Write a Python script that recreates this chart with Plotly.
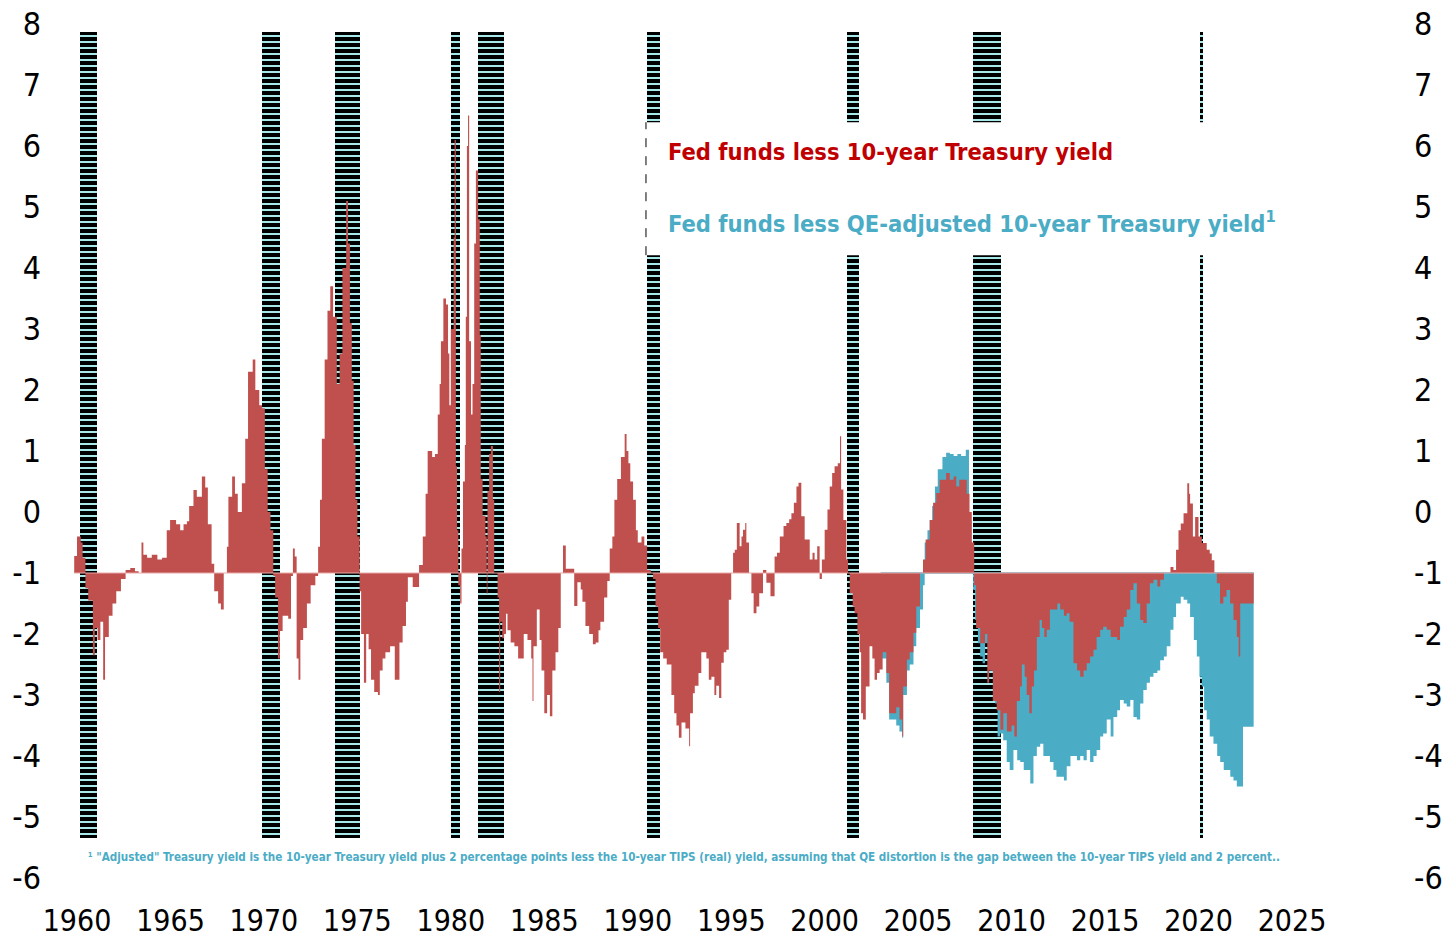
import plotly.graph_objects as go

# ---------------- data ----------------
# Fed funds less 10-year Treasury yield (step breakpoints: start of period, value)
red_x = [1959.85, 1960.0, 1960.2, 1960.3, 1960.45, 1960.6, 1960.85, 1960.95, 1961.1, 1961.25, 1961.4, 1961.5,
         1961.7, 1961.9, 1962.1, 1962.35, 1962.6, 1962.85, 1963.1, 1963.3, 1963.45, 1963.55, 1963.75, 1964.0,
         1964.3, 1964.55, 1964.8, 1964.98, 1965.3, 1965.52, 1965.7, 1965.88, 1966.0, 1966.23, 1966.41, 1966.68,
         1966.86, 1967.0, 1967.2, 1967.34, 1967.55, 1967.7, 1967.85, 1968.02, 1968.1, 1968.3, 1968.45, 1968.6,
         1968.82, 1969.0, 1969.15, 1969.4, 1969.54, 1969.75, 1969.9, 1970.05, 1970.2, 1970.35, 1970.5, 1970.6,
         1970.75, 1970.85, 1971.0, 1971.3, 1971.45, 1971.55, 1971.65, 1971.75, 1971.85, 1971.95, 1972.1, 1972.3,
         1972.5, 1972.75, 1972.9, 1973.0, 1973.1, 1973.25, 1973.4, 1973.55, 1973.7, 1973.9, 1974.05, 1974.2,
         1974.4, 1974.5, 1974.6, 1974.7, 1974.8, 1974.9, 1975.0, 1975.12, 1975.2, 1975.35, 1975.47, 1975.6,
         1975.73, 1975.9, 1976.1, 1976.2, 1976.35, 1976.5, 1976.75, 1977.0, 1977.25, 1977.42, 1977.6, 1977.7,
         1977.96, 1978.3, 1978.5, 1978.65, 1978.76, 1979.0, 1979.15, 1979.3, 1979.4, 1979.47, 1979.6, 1979.74,
         1979.85, 1979.92, 1980.0, 1980.15, 1980.2, 1980.27, 1980.33, 1980.4, 1980.5, 1980.57, 1980.65, 1980.75,
         1980.8, 1980.86, 1980.92, 1980.98, 1981.08, 1981.16, 1981.25, 1981.34, 1981.46, 1981.55, 1981.6, 1981.7,
         1981.85, 1981.92, 1981.96, 1982.05, 1982.14, 1982.25, 1982.32, 1982.5, 1982.58, 1982.64, 1982.75, 1982.85,
         1982.95, 1983.03, 1983.2, 1983.4, 1983.6, 1983.75, 1983.9, 1984.1, 1984.3, 1984.37, 1984.42, 1984.6,
         1984.75, 1984.85, 1985.0, 1985.15, 1985.3, 1985.43, 1985.6, 1985.75, 1985.88, 1986.0, 1986.15, 1986.6,
         1986.77, 1986.95, 1987.04, 1987.2, 1987.4, 1987.6, 1987.75, 1987.9, 1988.0, 1988.2, 1988.37, 1988.5,
         1988.64, 1988.75, 1988.9, 1989.1, 1989.3, 1989.4, 1989.5, 1989.6, 1989.75, 1989.9, 1990.0, 1990.2,
         1990.35, 1990.5, 1990.7, 1990.82, 1990.95, 1991.09, 1991.2, 1991.36, 1991.55, 1991.8, 1991.95, 1992.07,
         1992.2, 1992.34, 1992.55, 1992.75, 1992.8, 1992.95, 1993.05, 1993.25, 1993.4, 1993.67, 1993.8, 1993.94,
         1994.1, 1994.2, 1994.35, 1994.47, 1994.6, 1994.74, 1994.87, 1995.0, 1995.1, 1995.19, 1995.3, 1995.45,
         1995.55, 1995.63, 1995.75, 1995.81, 1995.95, 1996.08, 1996.2, 1996.35, 1996.5, 1996.7, 1996.88, 1997.1,
         1997.32, 1997.45, 1997.6, 1997.8, 1997.95, 1998.1, 1998.22, 1998.35, 1998.49, 1998.6, 1998.75, 1998.93,
         1999.2, 1999.35, 1999.46, 1999.6, 1999.73, 1999.85, 2000.0, 2000.15, 2000.27, 2000.4, 2000.53, 2000.7,
         2000.82, 2000.88, 2001.0, 2001.16, 2001.25, 2001.34, 2001.5, 2001.6, 2001.75, 2001.87, 2001.95, 2002.05,
         2002.2, 2002.4, 2002.55, 2002.67, 2002.8, 2002.94, 2003.1, 2003.3, 2003.45, 2003.6, 2003.83, 2004.0,
         2004.15, 2004.2, 2004.4, 2004.55, 2004.75, 2004.9, 2005.1, 2005.26, 2005.4, 2005.62, 2005.8, 2005.97,
         2006.15, 2006.33, 2006.5, 2006.69, 2006.9, 2007.04, 2007.2, 2007.4, 2007.6, 2007.75, 2007.87, 2008.0,
         2008.1, 2008.32, 2008.58, 2008.7, 2008.8, 2009.0, 2009.2, 2009.4, 2009.56, 2009.75, 2010.0, 2010.15,
         2010.28, 2010.45, 2010.55, 2010.7, 2010.81, 2010.95, 2011.08, 2011.2, 2011.35, 2011.5, 2011.62, 2011.75,
         2011.88, 2012.05, 2012.24, 2012.45, 2012.6, 2012.8, 2012.95, 2013.1, 2013.31, 2013.5, 2013.67, 2013.85,
         2014.02, 2014.2, 2014.38, 2014.55, 2014.74, 2014.9, 2015.09, 2015.3, 2015.45, 2015.65, 2015.8, 2016.0,
         2016.16, 2016.35, 2016.52, 2016.7, 2016.88, 2017.05, 2017.23, 2017.4, 2017.59, 2017.8, 2017.95, 2018.15,
         2018.3, 2018.5, 2018.66, 2018.8, 2018.93, 2019.05, 2019.2, 2019.4, 2019.5, 2019.55, 2019.7, 2019.82,
         2020.0, 2020.18, 2020.44, 2020.6, 2020.71, 2020.85, 2020.98, 2021.15, 2021.33, 2021.5, 2021.69, 2021.87,
         2022.05, 2022.15, 2022.23, 2022.95]
red_y = [-0.72, -0.4, -0.5, -0.75, -1.25, -1.45, -2.35, -1.9, -2.1, -1.8, -2.75, -2.05,
         -1.7, -1.5, -1.3, -1.1, -0.95, -0.92, -0.97, -1.0, -0.5, -0.7, -0.75, -0.7,
         -0.78, -0.75, -0.3, -0.13, -0.2, -0.3, -0.2, -0.15, 0.1, 0.36, 0.25, 0.58,
         0.4, -0.2, -0.85, -1.3, -1.5, -1.6, -1.0, -0.57, 0.25, 0.58, 0.3, 0.0,
         0.47, 1.2, 2.3, 2.5, 2.0, 1.75, 1.7, 0.7, 0.0, -0.3, -1.05, -1.4,
         -2.4, -1.95, -1.7, -1.75, -1.05, -0.6, -0.73, -2.4, -2.75, -2.1, -1.9, -1.5,
         -1.2, -1.05, -0.57, 0.2, 1.2, 2.5, 3.3, 3.7, 3.2, 2.1, 2.6, 4.0,
         5.1, 4.4, 3.1, 2.15, 1.1, 0.2, -0.4, -1.3, -2.0, -2.8, -2.0, -2.25,
         -2.75, -2.95, -3.0, -2.6, -2.4, -2.3, -2.2, -2.75, -2.14, -1.87, -1.47, -1.07,
         -1.23, -0.87, -0.4, 0.3, 1.0, 0.9, 0.95, 1.6, 2.1, 2.8, 3.5, 3.4,
         2.6, 1.75, 3.0, 4.5, 6.1, 0.75, -0.3, -1.2, -1.5, -0.6, 0.5, 1.1,
         3.2, 6.0, 6.5, 2.8, 1.6, 2.1, 4.4, 5.6, 4.8, 2.9, 0.54, -0.06,
         -0.4, -1.34, 0.34, 0.95, 1.08, 0.2, -1.0, -1.4, -2.95, -1.8, -2.07, -2.0,
         -1.67, -1.94, -2.14, -2.2, -2.4, -2.4, -2.0, -2.1, -2.4, -3.1, -2.2, -1.6,
         -2.1, -2.6, -3.3, -3.0, -3.35, -2.6, -2.3, -1.9, -1.0, -0.55, -0.93, -1.54,
         -1.15, -1.27, -1.47, -1.87, -2.0, -2.17, -2.14, -1.94, -1.8, -1.4, -1.13, -0.6,
         -0.4, 0.2, 0.54, 0.9, 1.28, 1.0, 0.8, 0.5, 0.2, -0.3, -0.5, -0.4,
         -0.55, -0.95, -1.0, -1.1, -1.55, -1.9, -2.3, -2.4, -2.5, -3.0, -3.3, -3.5,
         -3.7, -3.45, -3.55, -3.84, -3.3, -2.97, -2.85, -2.64, -2.3, -2.4, -2.75, -2.7,
         -3.0, -2.85, -3.05, -2.47, -2.3, -2.26, -1.44, -1.0, -0.67, -0.62, -0.18, -0.56,
         -0.4, -0.29, -0.18, -0.5, -1.0, -1.33, -1.66, -1.55, -1.33, -0.95, -1.16, -1.38,
         -0.73, -0.67, -0.4, -0.23, -0.18, -0.12, -0.02, 0.15, 0.42, 0.48, -0.07, -0.45,
         -0.78, -0.67, -0.78, -0.56, -1.1, -0.78, -0.29, 0.04, 0.42, 0.64, 0.75, 0.8,
         1.24, 0.37, -0.13, -0.78, -1.0, -1.33, -1.55, -1.66, -2.0, -2.3, -3.3, -3.4,
         -2.86, -2.2, -2.4, -2.75, -2.64, -2.58, -2.3, -2.64, -3.3, -3.3, -3.2, -3.4,
         -3.68, -2.86, -2.42, -2.3, -1.98, -1.55, -1.0, -0.78, -0.45, -0.13, 0.15, 0.31,
         0.53, 0.53, 0.64, 0.53, 0.58, 0.42, 0.53, 0.53, 0.3, 0.0, -0.5, -1.2,
         -1.9, -2.15, -2.0, -2.8, -2.6, -3.1, -3.25, -3.57, -3.3, -3.6, -3.5, -3.68,
         -3.1, -2.86, -2.5, -2.7, -3.0, -3.3, -2.86, -2.6, -2.05, -1.77, -1.9, -2.05,
         -1.93, -1.6, -1.6, -1.5, -1.6, -1.7, -1.66, -1.8, -2.48, -2.6, -2.7, -2.6,
         -2.48, -2.37, -2.26, -2.05, -1.93, -1.88, -1.93, -2.05, -2.05, -2.1, -1.88, -1.72,
         -1.6, -1.28, -1.17, -1.5, -1.77, -1.82, -1.5, -1.17, -1.11, -1.22, -1.11, -1.0,
         -1.0, -0.9, -0.95, -0.62, -0.3, -0.19, -0.02, 0.47, 0.3, 0.14, -0.4, -0.08,
         -0.4, -0.51, -0.62, -0.68, -0.79, -1.0, -1.17, -1.5, -1.39, -1.28, -1.5, -1.77,
         -2.05, -2.37, -1.5, -1.5]

# Fed funds less QE-adjusted 10-year Treasury yield
teal_x = [2003.0, 2003.3, 2003.45, 2003.6, 2003.83, 2004.0, 2004.15, 2004.2, 2004.4, 2004.55, 2004.75, 2004.9,
          2005.1, 2005.26, 2005.35, 2005.5, 2005.62, 2005.75, 2005.9, 2006.05, 2006.3, 2006.5, 2006.7, 2006.9,
          2007.1, 2007.3, 2007.55, 2007.72, 2007.85, 2007.95, 2008.05, 2008.2, 2008.32, 2008.45, 2008.58, 2008.75,
          2008.85, 2009.0, 2009.12, 2009.25, 2009.39, 2009.55, 2009.74, 2009.9, 2010.1, 2010.3, 2010.46, 2010.65,
          2010.81, 2011.0, 2011.17, 2011.35, 2011.53, 2011.7, 2011.88, 2012.05, 2012.24, 2012.4, 2012.6, 2012.8,
          2012.95, 2013.15, 2013.31, 2013.5, 2013.67, 2013.85, 2014.02, 2014.2, 2014.38, 2014.55, 2014.74, 2014.9,
          2015.09, 2015.3, 2015.45, 2015.65, 2015.8, 2016.0, 2016.16, 2016.35, 2016.52, 2016.7, 2016.88, 2017.05,
          2017.23, 2017.4, 2017.59, 2017.8, 2017.95, 2018.15, 2018.3, 2018.5, 2018.66, 2018.8, 2018.93, 2019.05,
          2019.2, 2019.4, 2019.55, 2019.75, 2019.91, 2020.05, 2020.18, 2020.3, 2020.44, 2020.6, 2020.8, 2021.0,
          2021.16, 2021.35, 2021.51, 2021.7, 2021.87, 2022.05, 2022.23, 2022.38, 2022.95]
teal_y = [-2.4, -2.8, -3.4, -3.4, -3.5, -3.6, -3.7, -3.0, -2.6, -2.5, -2.2, -1.9,
          -1.6, -1.2, -0.5, -0.3, -0.13, 0.1, 0.42, 0.7, 0.9, 0.97, 0.95, 0.92,
          0.95, 0.92, 1.02, -0.13, -0.67, -1.28, -1.77, -2.15, -2.37, -2.48, -2.15, -2.05,
          -2.6, -3.1, -3.14, -3.68, -3.63, -3.74, -4.1, -4.23, -3.9, -4.07, -4.1, -4.23,
          -4.23, -4.45, -4.0, -3.85, -3.8, -4.0, -4.0, -4.1, -4.23, -4.34, -4.34, -4.4,
          -4.17, -4.0, -4.0, -4.07, -4.0, -4.07, -3.9, -4.1, -4.0, -3.9, -3.68, -3.63,
          -3.4, -3.68, -3.36, -3.25, -3.08, -3.14, -3.19, -3.08, -3.36, -3.4, -3.14, -2.92,
          -2.8, -2.7, -2.64, -2.6, -2.43, -2.37, -2.2, -1.93, -1.72, -1.5, -1.5, -1.39,
          -1.44, -1.5, -1.72, -2.1, -2.37, -2.7, -2.86, -3.25, -3.4, -3.68, -3.8, -4.0,
          -4.1, -4.23, -4.23, -4.34, -4.4, -4.5, -4.5, -3.52, -3.52]

# NBER recessions (start, end)
rec_start = [1960.16, 1969.9, 1973.78, 1980.01, 1981.45, 1990.5, 2001.2, 2007.94, 2020.08]
rec_end = [1961.07, 1970.86, 1975.14, 1980.49, 1982.85, 1991.19, 2001.84, 2009.44, 2020.22]

year_ticks = [1960, 1965, 1970, 1975, 1980, 1985, 1990, 1995, 2000, 2005, 2010, 2015, 2020, 2025]
y_ticks = [-6, -5, -4, -3, -2, -1, 0, 1, 2, 3, 4, 5, 6, 7, 8]

label_red = "Fed funds less 10-year Treasury yield"
label_teal = "Fed funds less QE-adjusted 10-year Treasury yield"
footnote = ("\u00b9 \"Adjusted\" Treasury yield is the 10-year Treasury yield plus 2 percentage points less the "
            "10-year TIPS (real) yield, assuming that QE distortion is the gap between the 10-year TIPS yield and 2 percent..")

# ---------------- styling ----------------
FONT = "DejaVu Sans Condensed, sans-serif"
RED = "#c0504d"
TEAL = "#4bacc6"
BASE = -1
BAND_LO, BAND_HI = -5.35, 7.87

fig = go.Figure()

# recession bands (striped)
fig.add_trace(go.Bar(
    x=[(s + e) / 2 for s, e in zip(rec_start, rec_end)],
    y=[BAND_HI - BAND_LO] * len(rec_start),
    base=BAND_LO,
    width=[e - s for s, e in zip(rec_start, rec_end)],
    marker=dict(color="#aef2f2", line=dict(width=0),
                pattern=dict(shape="-", fgcolor="black", bgcolor="#aef2f2", size=6, solidity=0.68,
                             fillmode="replace")),
    hoverinfo="skip", showlegend=False))

# teal series
fig.add_trace(go.Scatter(x=[teal_x[0], teal_x[-1]], y=[BASE, BASE], mode="lines",
                         line=dict(color=TEAL, width=1.5), hoverinfo="skip", showlegend=False))
fig.add_trace(go.Scatter(x=teal_x, y=teal_y, mode="lines", line=dict(color=TEAL, width=0, shape="hv"),
                         fill="tonexty", fillcolor=TEAL, showlegend=False))

# red series
fig.add_trace(go.Scatter(x=[red_x[0], red_x[-1]], y=[BASE, BASE], mode="lines",
                         line=dict(color="#e8a9a8", width=1), hoverinfo="skip", showlegend=False))
fig.add_trace(go.Scatter(x=red_x, y=red_y, mode="lines", line=dict(color=RED, width=0, shape="hv"),
                         fill="tonexty", fillcolor=RED, showlegend=False))

# helper so the right-hand axis is drawn
fig.add_trace(go.Scatter(x=red_x[:1], y=red_y[:1], yaxis="y2", mode="markers",
                         marker=dict(opacity=0), hoverinfo="skip", showlegend=False))

# legend box (white) with dashed left edge
box_x0, box_x1, box_y0, box_y1 = 1990.44, 2024.6, 4.21, 6.39
fig.add_shape(type="rect", xref="x", yref="y", x0=box_x0, x1=box_x1, y0=box_y0, y1=box_y1,
              fillcolor="white", line=dict(width=0), layer="above")
fig.add_shape(type="line", xref="x", yref="y", x0=box_x0, x1=box_x0, y0=box_y0, y1=box_y1,
              line=dict(color="black", width=1, dash="dash"), layer="above")

fig.add_annotation(x=1991.5, y=5.90, xref="x", yref="y", text="<b>" + label_red + "</b>",
                   showarrow=False, xanchor="left", yanchor="middle",
                   font=dict(family=FONT, size=23.5, color="#c00000"))
fig.add_annotation(x=1991.5, y=4.75, xref="x", yref="y",
                   text="<b>" + label_teal + "<sup>1</sup></b>",
                   showarrow=False, xanchor="left", yanchor="middle",
                   font=dict(family=FONT, size=23.5, color=TEAL))
fig.add_annotation(x=1960.5, y=-5.66, xref="x", yref="y", text="<b>" + footnote + "</b>",
                   showarrow=False, xanchor="left", yanchor="middle",
                   font=dict(family=FONT, size=11.6, color=TEAL))

x_font = dict(family=FONT, size=30, color="black")
y_font = dict(family=FONT, size=32, color="black")
# the page body adds an 8px offset, so the figure is 8px smaller and margins shifted accordingly
fig.update_layout(
    width=1443, height=932,
    margin=dict(l=52, r=51, t=16, b=62),
    paper_bgcolor="white", plot_bgcolor="white",
    barmode="overlay", bargap=0,
    showlegend=False,
    xaxis=dict(range=[1959.09, 2030.78], tickvals=year_ticks, ticktext=[str(v) for v in year_ticks],
               showgrid=False, zeroline=False, showline=False, ticks="", tickfont=x_font,
               ticklabelstandoff=22, automargin=False, ticklabeloverflow="allow"),
    yaxis=dict(range=[-6, 8], tickvals=y_ticks, ticktext=[str(v) for v in y_ticks],
               showgrid=False, zeroline=False, showline=False, ticks="", tickfont=y_font,
               ticklabelstandoff=18, automargin=False, ticklabeloverflow="allow"),
    yaxis2=dict(range=[-6, 8], tickvals=y_ticks, ticktext=[str(v) for v in y_ticks], overlaying="y",
                side="right", showgrid=False, zeroline=False, showline=False, ticks="", tickfont=y_font,
                ticklabelstandoff=13, automargin=False, ticklabeloverflow="allow"),
)

fig.write_html("out.html")
